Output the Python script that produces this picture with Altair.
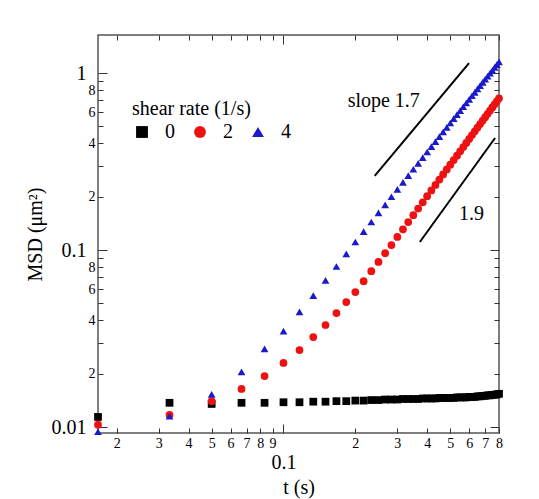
import altair as alt
import pandas as pd

# time lags (s), frames at 60 fps
t = [0.0167, 0.0333, 0.05, 0.0667, 0.0833, 0.1, 0.1167, 0.1333, 0.15, 0.1667,
     0.1833, 0.2, 0.2167, 0.2333, 0.25, 0.2667, 0.2833, 0.3, 0.3167, 0.3333,
     0.35, 0.3667, 0.3833, 0.4, 0.4167, 0.4333, 0.45, 0.4667, 0.4833, 0.5,
     0.5167, 0.5333, 0.55, 0.5667, 0.5833, 0.6, 0.6167, 0.6333, 0.65, 0.6667,
     0.6833, 0.7, 0.7167, 0.7333, 0.75, 0.7667, 0.7833, 0.8]

msd_0 = [0.0114, 0.0137, 0.0135, 0.0137, 0.0137, 0.0138, 0.0138, 0.0139, 0.0139, 0.0140,
         0.0140, 0.0141, 0.0141, 0.0142, 0.0142, 0.0143, 0.0143, 0.0143, 0.0144, 0.0144,
         0.0144, 0.0144, 0.0145, 0.0145, 0.0145, 0.0145, 0.0146, 0.0146, 0.0146, 0.0146,
         0.0146, 0.0147, 0.0147, 0.0147, 0.0147, 0.0148, 0.0148, 0.0148, 0.0149, 0.0149,
         0.0150, 0.0150, 0.0151, 0.0151, 0.0152, 0.0152, 0.0153, 0.0154]

msd_2 = [0.0103, 0.0117, 0.0140, 0.0164, 0.0194, 0.0230, 0.0272, 0.0322, 0.0377, 0.0440,
         0.0508, 0.0579, 0.0667, 0.0759, 0.0857, 0.0959, 0.1066, 0.1185, 0.1309, 0.1439,
         0.1574, 0.1715, 0.1861, 0.2013, 0.2170, 0.2330, 0.2500, 0.2673, 0.2851, 0.3034,
         0.3222, 0.3414, 0.3614, 0.3819, 0.4027, 0.4240, 0.4462, 0.4685, 0.4915, 0.5149,
         0.5388, 0.5631, 0.5882, 0.6134, 0.6395, 0.6656, 0.6926, 0.7197]

msd_4 = [0.0094, 0.0115, 0.0153, 0.0205, 0.0276, 0.0348, 0.0447, 0.0552, 0.0673, 0.0807,
         0.0951, 0.111, 0.127, 0.144, 0.162, 0.180, 0.200, 0.220, 0.241, 0.263,
         0.286, 0.309, 0.333, 0.358, 0.384, 0.410, 0.437, 0.465, 0.493, 0.522,
         0.552, 0.582, 0.613, 0.645, 0.677, 0.710, 0.744, 0.778, 0.813, 0.849,
         0.885, 0.922, 0.959, 0.997, 1.035, 1.075, 1.114, 1.155]

rates = ["0", "2", "4"]
colors = ["#000000", "#ee1111", "#1a1acc"]
shapes = ["square", "circle", "triangle-up"]

# guide lines (slope indicators)
slope_id = ["a", "a", "b", "b"]
slope_t = [0.2411, 0.599, 0.3727, 0.770]
slope_msd = [0.262, 1.139, 0.111, 0.4294]

# annotations
note_text = ["slope 1.7", "1.9"]
note_t = [0.1857, 0.5437]
note_msd = [0.643, 0.1477]

# tick values
x_minor = [0.02, 0.03, 0.04, 0.05, 0.06, 0.07, 0.08, 0.09,
           0.2, 0.3, 0.4, 0.5, 0.6, 0.7, 0.8]
x_major = [0.1]
y_minor = [0.02, 0.03, 0.04, 0.05, 0.06, 0.07, 0.08, 0.09,
           0.2, 0.3, 0.4, 0.5, 0.6, 0.7, 0.8, 0.9]
y_major = [0.01, 0.1, 1]

FONT = "Liberation Serif"
TICK = "#333333"

rows = []
for r, series in zip(rates, [msd_0, msd_2, msd_4]):
    for tt, v in zip(t, series):
        rows.append({"t": tt, "msd": v, "rate": r})
df = pd.DataFrame(rows)

lines_df = pd.DataFrame({"t": slope_t, "msd": slope_msd, "id": slope_id})
notes_df = pd.DataFrame({"t": note_t, "msd": note_msd, "label": note_text})

xscale = alt.Scale(type="log", domain=[0.0167, 0.8], nice=False)
yscale = alt.Scale(type="log", domain=[0.00925, 1.64], nice=False)

digit = "round(datum.value / pow(10, floor(log(datum.value) / LN10 + 0.000001)))"

common = dict(domain=False, grid=False, title=None, labelOverlap=False,
              labelFlush=False, tickColor=TICK, tickWidth=1, labelColor="black",
              labelFont=FONT, labelBound=False)

ax_bottom_minor = alt.Axis(orient="bottom", values=x_minor, offset=-5, tickSize=5,
                           labelPadding=3, labelFontSize=14, labelExpr="'' + " + digit,
                           **common)
ax_left_minor = alt.Axis(orient="left", values=y_minor, offset=-5, tickSize=5,
                         labelPadding=3, labelFontSize=14,
                         labelExpr="(" + digit + ") % 2 == 0 ? '' + " + digit + " : ''",
                         **common)

c2 = dict(common)
c2.pop("title")
ax_bottom_major = alt.Axis(orient="bottom", values=x_major, offset=-9, tickSize=9,
                           labelPadding=19, labelFontSize=20, format="~g",
                           title="t (s)", titleFont=FONT, titleFontSize=20,
                           titleFontWeight="normal", titlePadding=5, **c2)
ax_left_major = alt.Axis(orient="left", values=y_major, offset=-9, tickSize=9,
                         labelPadding=12, labelFontSize=20, format="~g",
                         title="MSD (μm²)", titleFont=FONT, titleFontSize=20,
                         titleFontWeight="normal", titlePadding=6, **c2)

ax_top_minor = alt.Axis(orient="top", values=x_minor, offset=-5, tickSize=5,
                        labels=False, **common)
ax_right_minor = alt.Axis(orient="right", values=y_minor, offset=-5, tickSize=5,
                          labels=False, **common)
ax_top_major = alt.Axis(orient="top", values=x_major, offset=-9, tickSize=9,
                        labels=False, **common)
ax_right_major = alt.Axis(orient="right", values=y_major, offset=-9, tickSize=9,
                          labels=False, **common)

legend = alt.Legend(title="shear rate (1/s)", orient="none", legendX=34, legendY=64,
                    direction="horizontal", titleFont=FONT, titleFontSize=20,
                    titleFontWeight="normal", titleColor="black", labelFont=FONT,
                    labelFontSize=20, labelColor="black", symbolSize=140,
                    labelOffset=13, columnPadding=15, titlePadding=3, padding=0,
                    symbolStrokeWidth=0)

points = alt.Chart(df).mark_point(filled=True, size=60, opacity=1).encode(
    x=alt.X("t:Q", scale=xscale, axis=ax_bottom_minor),
    y=alt.Y("msd:Q", scale=yscale, axis=ax_left_minor),
    color=alt.Color("rate:N", scale=alt.Scale(domain=rates, range=colors), legend=legend),
    shape=alt.Shape("rate:N", scale=alt.Scale(domain=rates, range=shapes), legend=legend),
)

guides = alt.Chart(lines_df).mark_line(color="black", strokeWidth=2).encode(
    x=alt.X("t:Q", scale=xscale, axis=ax_bottom_major),
    y=alt.Y("msd:Q", scale=yscale, axis=ax_left_major),
    detail="id:N",
)

note1 = alt.Chart(notes_df.iloc[[0]]).mark_text(
    align="left", baseline="alphabetic", font=FONT, fontSize=20, color="black"
).encode(
    x=alt.X("t:Q", scale=xscale, axis=ax_top_minor),
    y=alt.Y("msd:Q", scale=yscale, axis=ax_right_minor),
    text="label:N",
)

note2 = alt.Chart(notes_df.iloc[[1]]).mark_text(
    align="left", baseline="alphabetic", font=FONT, fontSize=20, color="black"
).encode(
    x=alt.X("t:Q", scale=xscale, axis=ax_top_major),
    y=alt.Y("msd:Q", scale=yscale, axis=ax_right_major),
    text="label:N",
)

chart = alt.layer(points, guides, note1, note2).resolve_axis(
    x="independent", y="independent"
).properties(
    width=401, height=398,
    padding={"left": 90, "top": 27, "right": 20, "bottom": 66},
    autosize=alt.AutoSizeParams(type="none"),
    background="white",
).configure_view(
    stroke="#555555", strokeWidth=1.5
)

chart.save("out.html", embed_options={"renderer": "svg", "actions": False})
